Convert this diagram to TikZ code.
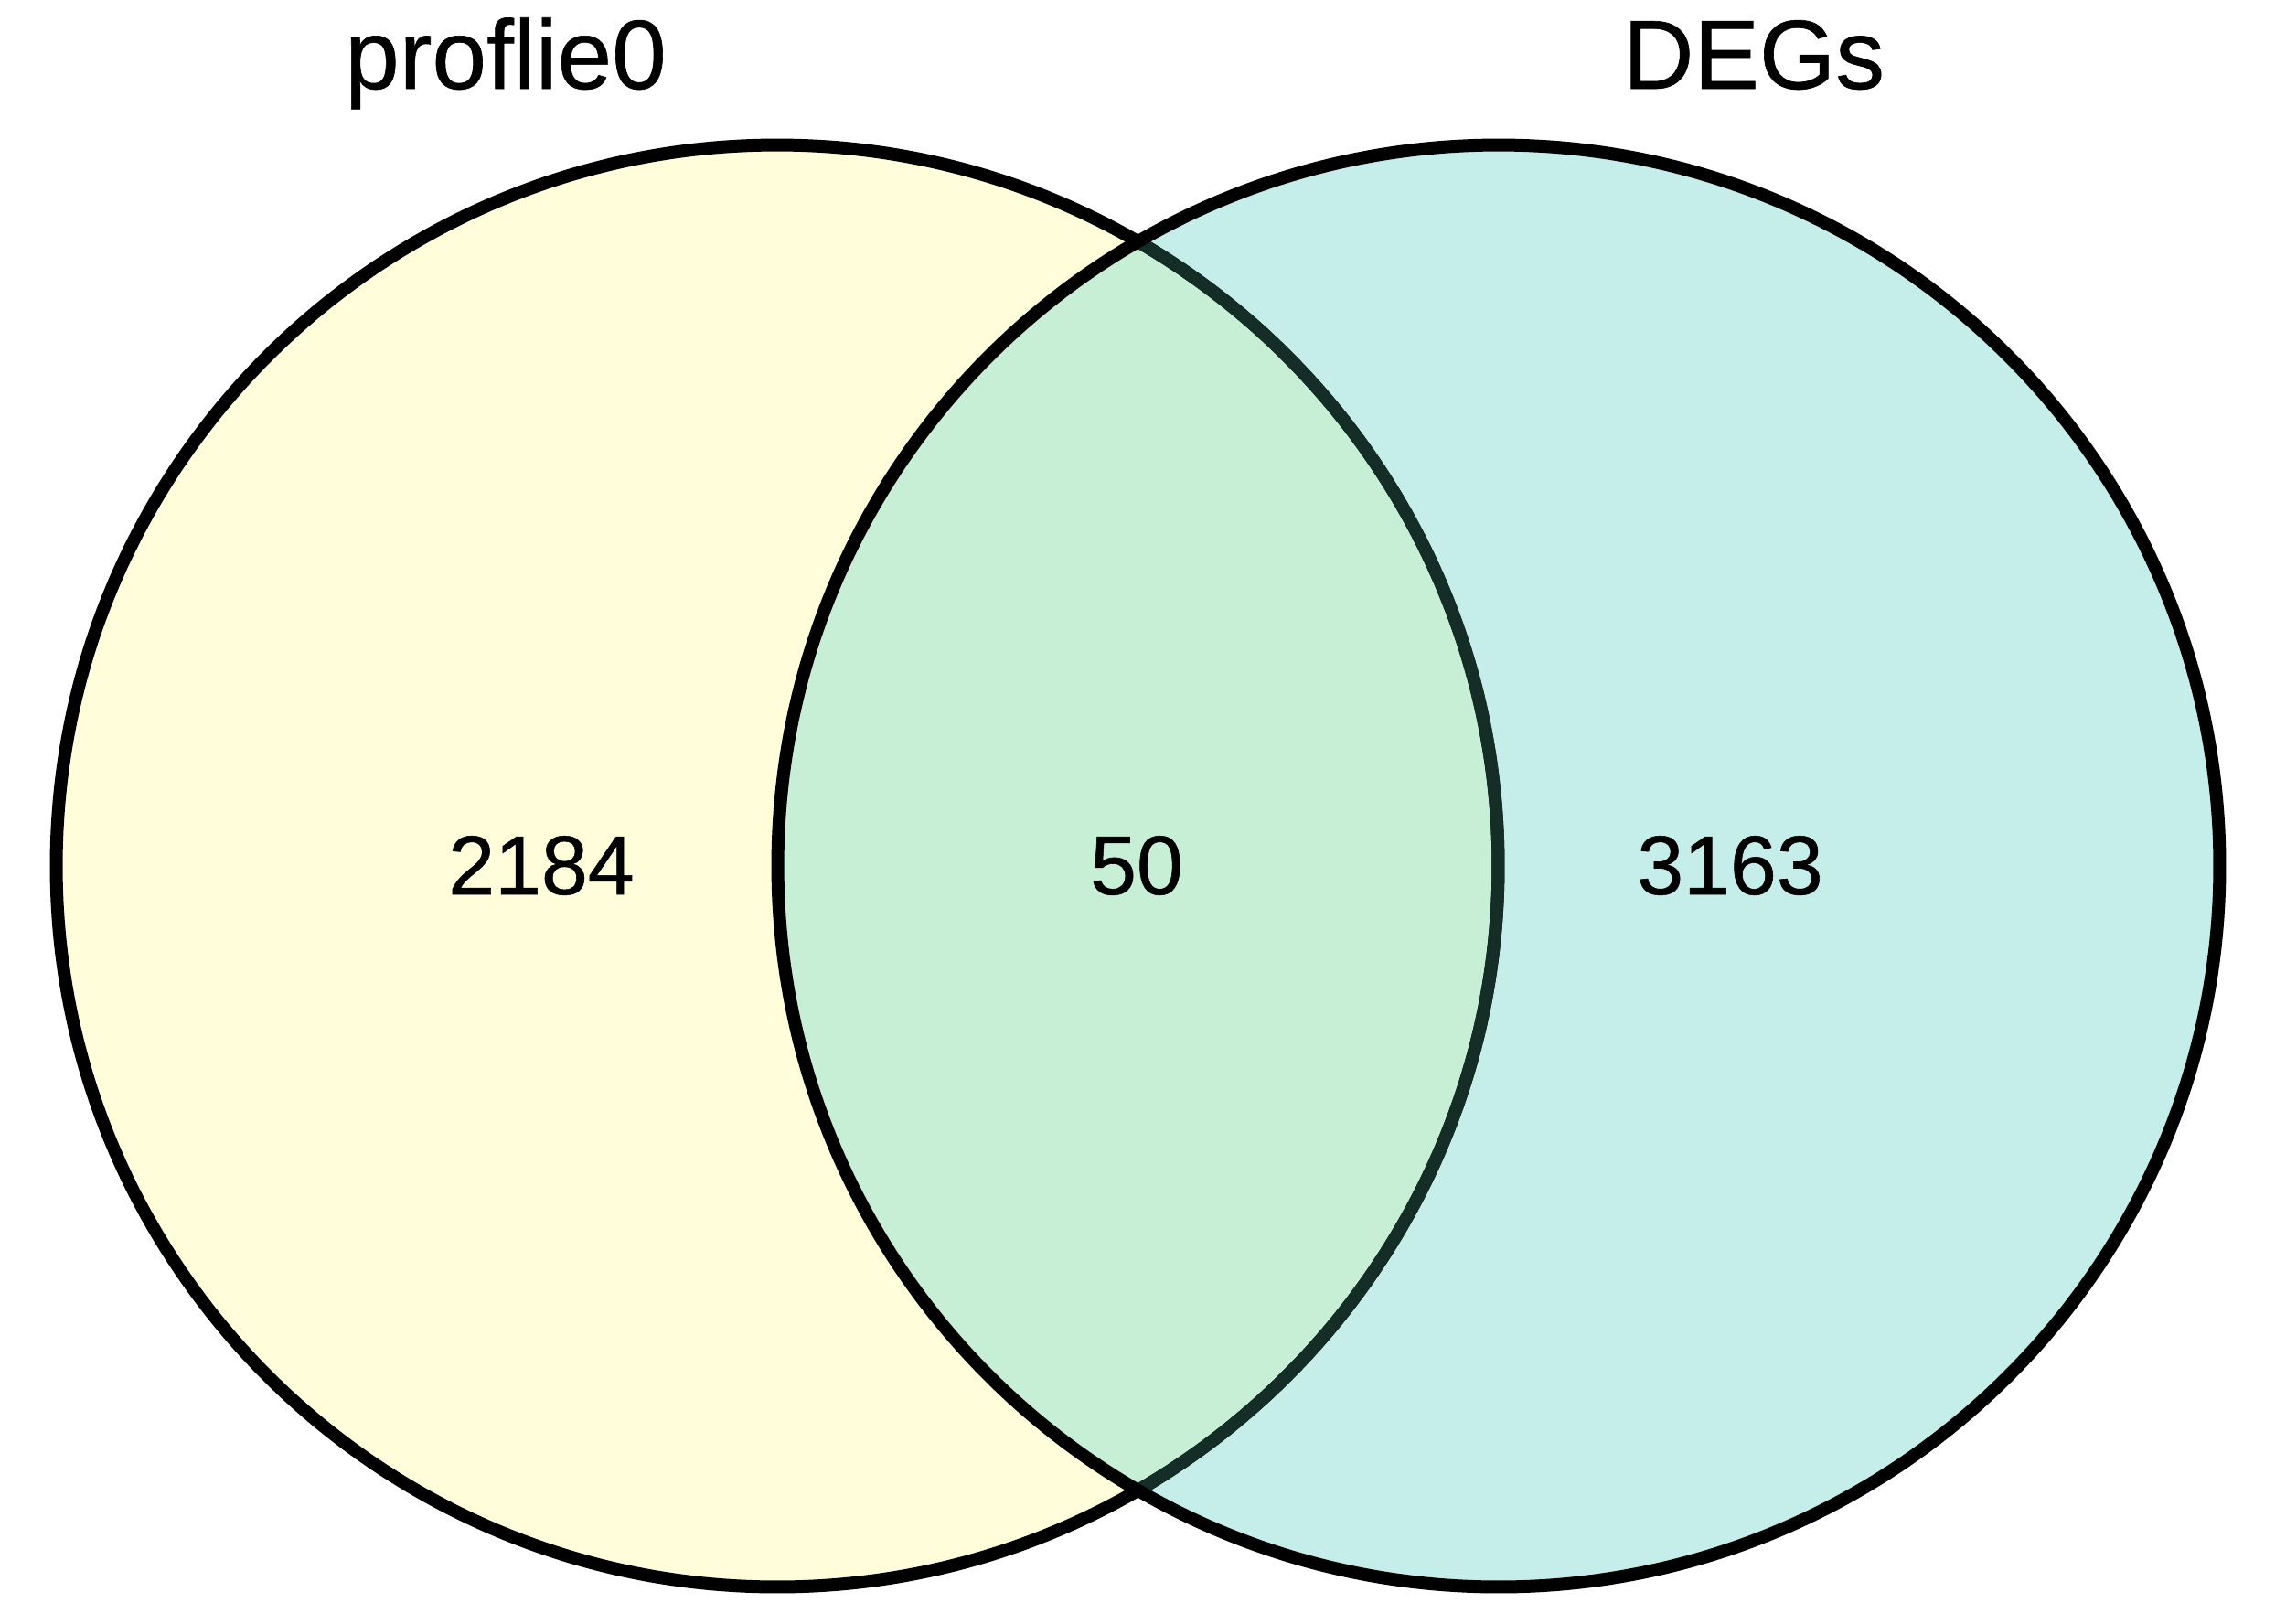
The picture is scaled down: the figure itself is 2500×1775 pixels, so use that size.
\documentclass[tikz,border=0pt]{standalone}
\usepackage{fontspec}
\setmainfont{Liberation Sans}
\definecolor{vyellow}{RGB}{255,253,218}
\definecolor{vcyan}{RGB}{197,238,234}
\definecolor{vgreen}{RGB}{199,239,213}
\definecolor{vdark}{RGB}{20,45,38}
\tikzset{
  setline/.style={line width=0.14cm},
  titletext/.style={anchor=base, inner sep=0pt, font=\fontsize{30.5}{36}\selectfont\addfontfeature{FakeBold=0.6}},
  numtext/.style={anchor=base, inner sep=0pt, font=\fontsize{26}{31}\selectfont\addfontfeature{FakeBold=0.6}},
}
\begin{document}
\begin{tikzpicture}[x=0.01cm,y=-0.01cm]
\useasboundingbox (0,0) rectangle (2500,1775);
\fill[white] (0,0) rectangle (2500,1775);
\coordinate (cl) at (850,947);
\coordinate (cr) at (1639,947);
\fill[vyellow] (cl) circle[radius=7.88cm];
\fill[vcyan] (cr) circle[radius=7.88cm];
\begin{scope}
  \clip (cl) circle[radius=7.88cm];
  \fill[vgreen] (cr) circle[radius=7.88cm];
\end{scope}
\draw[setline] (cl) circle[radius=7.88cm];
\begin{scope}
  \clip (cr) circle[radius=7.81cm];
  \draw[setline, vdark] (cl) circle[radius=7.88cm];
\end{scope}
\draw[setline] (cr) circle[radius=7.88cm];
\node[titletext] (tl) at (553,97) {proflie0};
\node[titletext] (tr) at (1918,97) {DEGs};
\node[numtext] (nl) at (592,978) {2184};
\node[numtext] (nm) at (1243,978) {50};
\node[numtext] (nr) at (1892,978) {3163};
\end{tikzpicture}
\end{document}
